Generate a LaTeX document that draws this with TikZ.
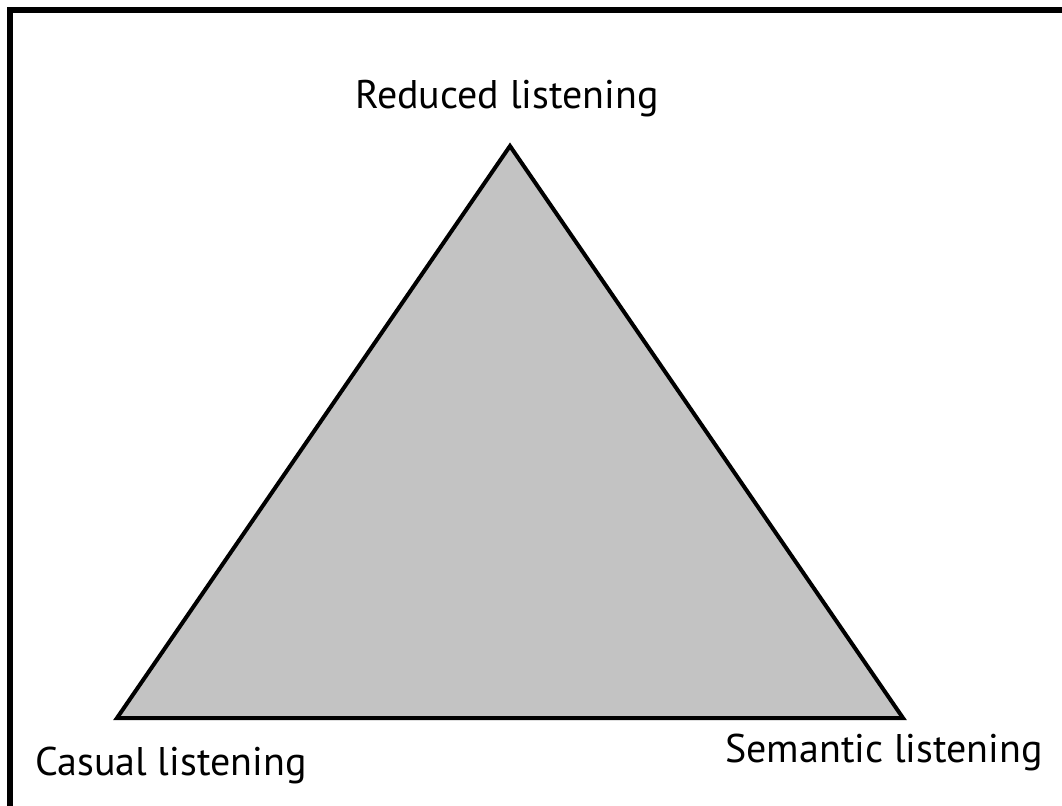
\documentclass[tikz,border=0pt]{standalone}
\usepackage{fontspec}
\setmainfont{PT Sans}
\definecolor{trigray}{HTML}{C3C3C3}
\tikzset{
  lbl/.style={font=\fontsize{20}{24}\selectfont, inner sep=0pt, anchor=base},
  frame/.style={line width=2.6pt, line cap=rect},
  tri/.style={fill=trigray, draw=black, line width=2pt, line join=miter}
}
\begin{document}
\begin{tikzpicture}[x=0.5pt,y=-0.5pt]
\useasboundingbox (0,0) rectangle (1062,805);
\draw[frame] (10,805) -- (10,10) -- (1062,10);
\coordinate (top) at (510,146);
\coordinate (bl) at (117,718);
\coordinate (br) at (903,718);
\draw[tri] (top) -- (bl) -- (br) -- cycle;
\node[lbl] (reduced) at (507,108) {Reduced listening};
\node[lbl] (casual) at (171,775) {Casual listening};
\node[lbl] (semantic) at (884,762) {Semantic listening};
\end{tikzpicture}
\end{document}
